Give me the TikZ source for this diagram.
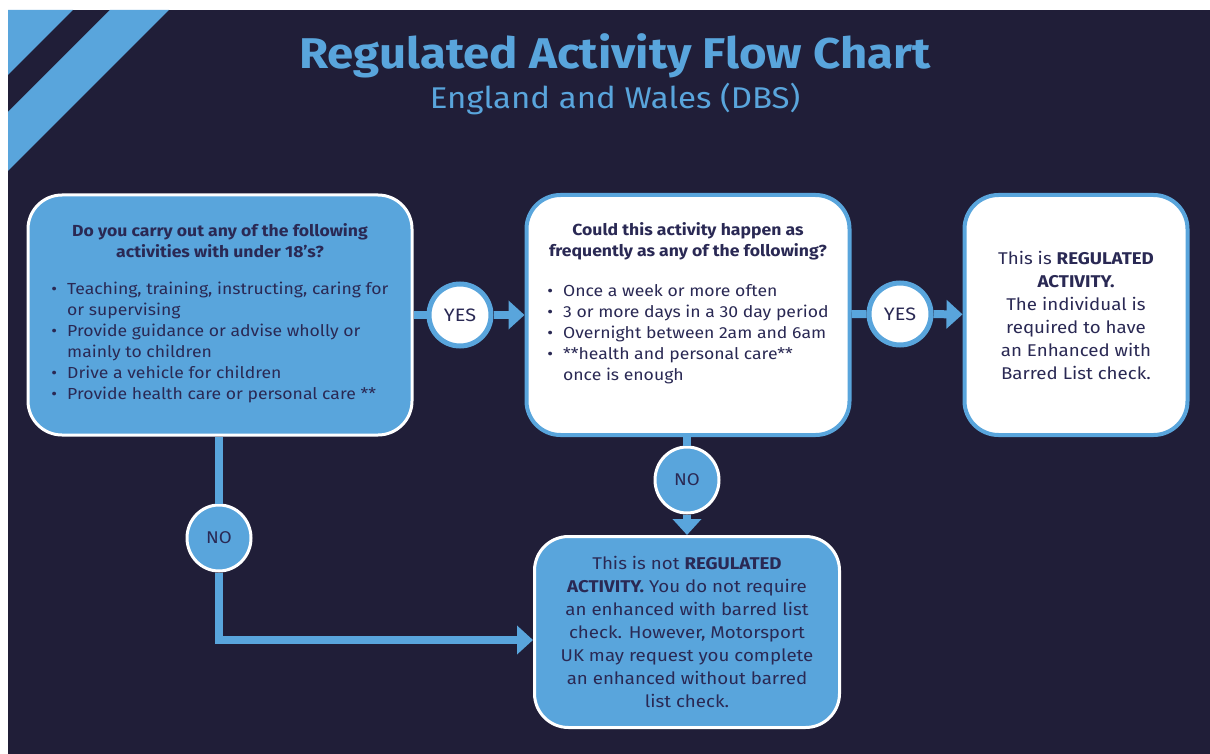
\documentclass[tikz,border=0pt]{standalone}
\usepackage{fontspec}
\setmainfont{Fira Sans}[FakeStretch=1.1]
\usetikzlibrary{arrows.meta,shapes.geometric}
\definecolor{bgnavy}{RGB}{32,30,56}
\definecolor{skyblue}{RGB}{89,165,220}
\definecolor{inknavy}{RGB}{42,41,84}
\tikzset{
  bluebox/.style={rectangle, rounded corners=34pt, fill=skyblue, draw=white,
    line width=3pt, text=inknavy, inner sep=0pt, align=center},
  whitebox/.style={bluebox, fill=white, draw=skyblue, line width=4pt},
  yesdot/.style={circle, minimum size=62pt, inner sep=0pt, fill=white,
    draw=skyblue, line width=5pt, text=inknavy, font=\fontsize{18}{20}\selectfont},
  nodot/.style={ellipse, minimum width=64pt, minimum height=66pt, inner sep=0pt,
    fill=skyblue, draw=white, line width=3pt, text=inknavy, font=\fontsize{17}{20}\selectfont},
  conn/.style={skyblue, line width=8pt},
  connarrow/.style={conn, -{Triangle[length=16pt,width=28pt]}}
}
\newcommand{\blist}[1]{\begin{tabular}{@{}l@{\hspace{10pt}}l@{}}#1\end{tabular}}
\begin{document}
\begin{tikzpicture}[x=1pt,y=-1pt]
    % Page and background
    \useasboundingbox (0,0) rectangle (1210,754);
    \fill[white] (0,0) rectangle (1210,754);
    \fill[bgnavy] (8,10) rectangle (1210,754);
    \fill[skyblue] (8,10) -- (73,10) -- (8,75) -- cycle;
    \fill[skyblue] (110,10) -- (169,10) -- (8,171) -- (8,112) -- cycle;

    % Title
    \node[text=skyblue, font=\fontsize{43}{50}\selectfont\bfseries] (title) at (615,56) {Regulated Activity Flow Chart};
    \node[text=skyblue, font=\fontsize{30}{34}\selectfont] (subtitle) at (615,99) {England and Wales (DBS)};

    % Boxes
    \node[bluebox, minimum width=384pt, minimum height=240pt, font=\fontsize{16}{21}\selectfont] (q1) at (220,315)
      {\textbf{Do you carry out any of the following}\\
       \textbf{activities with under 18’s?}\\[21pt]
       \blist{\textbullet & Teaching, training, instructing, caring for\\
              & or supervising\\
              \textbullet & Provide guidance or advise wholly or\\
              & mainly to children\\
              \textbullet & Drive a vehicle for children\\
              \textbullet & Provide health care or personal care **}};
    \node[whitebox, minimum width=323pt, minimum height=240pt, font=\fontsize{16}{21}\selectfont] (q2) at (688,315)
      {\textbf{Could this activity happen as}\\
       \textbf{frequently as any of the following?}\\[21pt]
       \blist{\textbullet & Once a week or more often\\
              \textbullet & 3 or more days in a 30 day period\\
              \textbullet & Overnight between 2am and 6am\\
              \textbullet & **health and personal care**\\
              & once is enough}\\[20pt]};
    \node[whitebox, minimum width=223pt, minimum height=240pt, font=\fontsize{17}{23}\selectfont] (reg) at (1076,315)
      {This is \textbf{REGULATED}\\
       \textbf{ACTIVITY.}\\
       The individual is\\
       required to have\\
       an Enhanced with\\
       Barred List check.};
    \node[bluebox, minimum width=305pt, minimum height=191pt, font=\fontsize{17}{23}\selectfont] (notreg) at (687,632)
      {This is not \textbf{REGULATED}\\
       \textbf{ACTIVITY.} You do not require\\
       an enhanced with barred list\\
       check. However, Motorsport\\
       UK may request you complete\\
       an enhanced without barred\\
       list check.};

    % Answers
    \node[yesdot] (yesa) at (460,315) {YES};
    \node[yesdot] (yesb) at (900,314) {YES};
    \node[nodot] (noa) at (219,538) {NO};
    \node[nodot] (nob) at (687,480) {NO};

    % Connectors
    \draw[conn] (q1) -- (yesa);
    \draw[connarrow] (yesa) -- (q2);
    \draw[conn] (q2) -- (yesb);
    \draw[connarrow] (yesb) -- (reg);
    \draw[conn] (q2.south -| nob) -- (nob);
    \draw[connarrow] (nob) -- (notreg);
    \draw[conn] (q1.south -| noa) -- (noa);
    \draw[connarrow] (noa) |- ([yshift=-8pt]notreg.west);
\end{tikzpicture}
\end{document}
